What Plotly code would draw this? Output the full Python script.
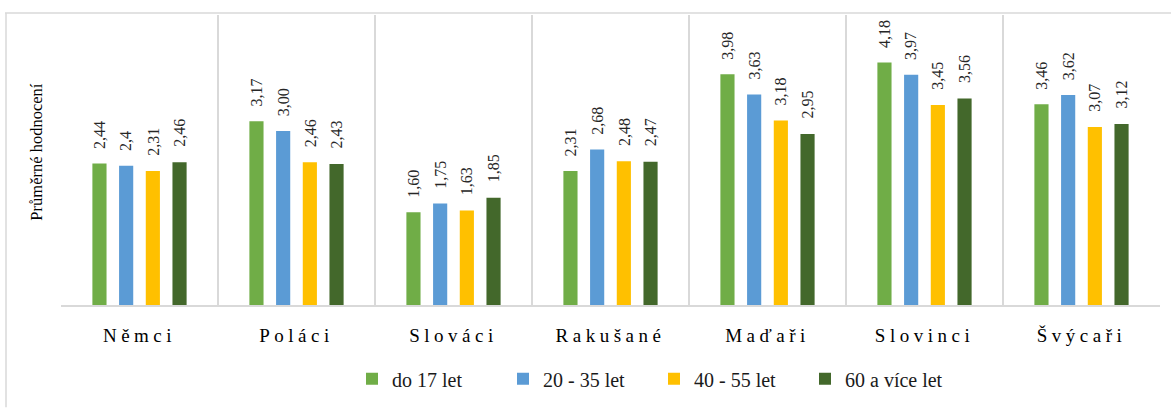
import plotly.graph_objects as go

categories = ["Němci", "Poláci", "Slováci", "Rakušané", "Maďaři", "Slovinci", "Švýcaři"]
series_names = ["do 17 let", "20 - 35 let", "40 - 55 let", "60 a více let"]
do17 = [2.44, 3.17, 1.60, 2.31, 3.98, 4.18, 3.46]
s20_35 = [2.40, 3.00, 1.75, 2.68, 3.63, 3.97, 3.62]
s40_55 = [2.31, 2.46, 1.63, 2.48, 3.18, 3.45, 3.07]
s60 = [2.46, 2.43, 1.85, 2.47, 2.95, 3.56, 3.12]
labels_do17 = ["2,44", "3,17", "1,60", "2,31", "3,98", "4,18", "3,46"]
labels_20_35 = ["2,4", "3,00", "1,75", "2,68", "3,63", "3,97", "3,62"]
labels_40_55 = ["2,31", "2,46", "1,63", "2,48", "3,18", "3,45", "3,07"]
labels_60 = ["2,46", "2,43", "1,85", "2,47", "2,95", "3,56", "3,12"]
y_title = "Průměrné hodnocení"

colors = ["#70AD47", "#5B9BD5", "#FFC000", "#43682B"]
values = [do17, s20_35, s40_55, s60]
labels = [labels_do17, labels_20_35, labels_40_55, labels_60]

FONT = "Liberation Serif"
W, H = 1171, 409
L, R, T, B = 61, 11, 15, 99

BARGAP = 0.32
slot = (1 - BARGAP) / len(series_names)

fig = go.Figure()
for k, (name, vals, col) in enumerate(zip(series_names, values, colors)):
    fig.add_trace(go.Bar(
        x=categories, y=vals, name=name,
        marker=dict(color=col, line=dict(width=0)),
    ))

annotations = []
for k, (vals, labs) in enumerate(zip(values, labels)):
    off = (k - (len(series_names) - 1) / 2) * slot
    for i, (v, t) in enumerate(zip(vals, labs)):
        annotations.append(dict(
            x=i + off, y=v, xref="x", yref="y", text=t, showarrow=False,
            textangle=-90, xanchor="center", yanchor="bottom", yshift=13,
            font=dict(family=FONT, size=16, color="#262626"),
        ))

pw = W - L - R
ph = H - T - B
def px_x(p):
    return (p - L) / pw
def px_y(p):
    return (H - B - p) / ph

annotations.append(dict(
    xref="paper", yref="paper", x=px_x(37), y=px_y(155),
    text=y_title, showarrow=False, textangle=-90, xanchor="center", yanchor="middle",
    font=dict(family=FONT, size=16.5, color="#000000"),
))

shapes = [
    dict(type="line", xref="paper", yref="paper", x0=px_x(5), x1=px_x(W + 5), y0=px_y(13), y1=px_y(13),
         line=dict(color="#d9d9d9", width=1.5)),
    dict(type="line", xref="paper", yref="paper", x0=px_x(6), x1=px_x(6), y0=px_y(13), y1=px_y(H + 5),
         line=dict(color="#d9d9d9", width=1.5)),
]

ticktext = ['<span style="letter-spacing:4.5px">%s</span>' % c for c in categories]

fig.update_layout(
    width=W, height=H,
    margin=dict(l=L, r=R, t=T, b=B),
    paper_bgcolor="white", plot_bgcolor="white",
    font=dict(family=FONT, color="#1a1a1a"),
    barmode="group", bargap=BARGAP, bargroupgap=0.47,
    showlegend=True,
    legend=dict(orientation="h", x=px_x(654), xanchor="center", y=px_y(385), yanchor="middle",
                font=dict(family=FONT, size=20, color="#1a1a1a"),
                entrywidth=106, itemwidth=30, traceorder="normal"),
    annotations=annotations,
    shapes=shapes,
    xaxis=dict(
        type="category",
        tickmode="array", tickvals=categories, ticktext=ticktext,
        tickson="boundaries", ticks="", showgrid=True, gridcolor="#d9d9d9", gridwidth=1.5,
        showline=True, linecolor="#d9d9d9", linewidth=1.5,
        range=[-0.5, len(categories) - 0.5],
        tickfont=dict(family=FONT, size=19, color="#000000"),
        ticklabelstandoff=12,
    ),
    yaxis=dict(range=[0, 5], showgrid=False, showticklabels=False, zeroline=False, showline=False,
               ticks=""),
)

fig.write_html("out.html", config={"displayModeBar": False},
               post_script="document.body.style.margin='0';")
